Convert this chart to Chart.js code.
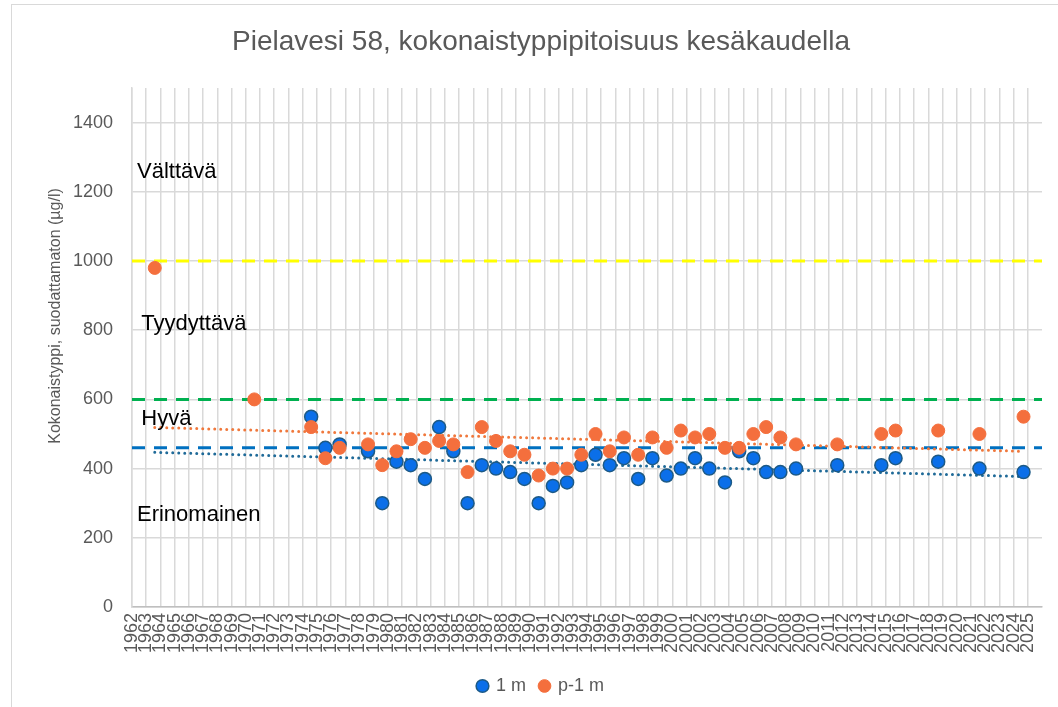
<!DOCTYPE html>
<html>
<head>
<meta charset="utf-8">
<title>Pielavesi 58</title>
<script src="https://cdn.jsdelivr.net/npm/chart.js@4.4.1/dist/chart.umd.min.js"></script>
<style>
  html, body { margin: 0; padding: 0; background: #fff; }
  #wrap { position: relative; width: 1058px; height: 707px; overflow: hidden; }
  #frame { position: absolute; left: 11px; top: 4px; width: 1200px; height: 900px; border: 1px solid #d9d9d9; box-sizing: border-box; }
  #chart { position: absolute; left: 0; top: 0; }
</style>
</head>
<body>
<div id="wrap">
  <div id="frame"></div>
  <canvas id="chart" width="1058" height="707"></canvas>
</div>
<script>
// =====================================
// DATA (sample year as decimal, summer samples)
// =====================================
const years1m = [1974.6, 1975.6, 1976.6, 1978.6, 1979.6, 1980.6, 1981.6, 1982.6, 1983.6, 1984.6,
                 1985.6, 1986.6, 1987.6, 1988.6, 1989.6, 1990.6, 1991.6, 1992.6, 1993.6, 1994.6,
                 1995.6, 1996.6, 1997.6, 1998.6, 1999.6, 2000.6, 2001.6, 2002.6, 2003.7, 2004.7,
                 2005.7, 2006.6, 2007.6, 2008.7, 2011.6, 2014.7, 2015.7, 2018.7, 2021.6, 2024.7];
const values1m = [550, 460, 470, 450, 300, 420, 410, 370, 520, 450,
                  300, 410, 400, 390, 370, 300, 350, 360, 410, 440,
                  410, 430, 370, 430, 380, 400, 430, 400, 360, 450,
                  430, 390, 390, 400, 410, 410, 430, 420, 400, 390];

const yearsP1m = [1963.6, 1970.6, 1974.6, 1975.6, 1976.6, 1978.6, 1979.6, 1980.6, 1981.6, 1982.6,
                  1983.6, 1984.6, 1985.6, 1986.6, 1987.6, 1988.6, 1989.6, 1990.6, 1991.6, 1992.6,
                  1993.6, 1994.6, 1995.6, 1996.6, 1997.6, 1998.6, 1999.6, 2000.6, 2001.6, 2002.6,
                  2003.7, 2004.7, 2005.7, 2006.6, 2007.6, 2008.7, 2011.6, 2014.7, 2015.7, 2018.7,
                  2021.6, 2024.7];
const valuesP1m = [980, 600, 520, 430, 460, 470, 410, 450, 485, 460,
                   480, 470, 390, 520, 480, 450, 440, 380, 400, 400,
                   440, 500, 450, 490, 440, 490, 460, 510, 490, 500,
                   460, 460, 500, 520, 490, 470, 470, 500, 510, 510,
                   500, 550];

// linear trendlines (end points)
const trendYears = [1963.6, 2024.6];
const trend1m = [447, 377];
const trendP1m = [519, 450];

// class limits (dashed lines)
const limitValues = [1000, 600, 460];
const limitColors = ["#ffff00", "#00b050", "#0070c0"];

// class names and where they sit (year, value)
const classNames = ["Välttävä", "Tyydyttävä", "Hyvä", "Erinomainen"];
const classYears = [1962.35, 1962.65, 1962.65, 1962.35];
const classValues = [1240, 800, 525, 249];

const X_MIN = 1962;
const X_MAX = 2026;
const Y_MAX = 1500;

const GRAY = "#595959";
const FONT = "'Liberation Sans', Arial, sans-serif";

// =====================================
// HELPERS
// =====================================
const toPoints = (xs, ys) => xs.map((x, i) => ({ x: x, y: ys[i] }));

// =====================================
// PLUGINS
// =====================================
const yTitlePlugin = {
    id: "yTitle",
    afterDraw(chart) {
        const ctx = chart.ctx;
        ctx.save();
        ctx.translate(56, 316);
        ctx.rotate(-Math.PI / 2);
        ctx.font = "16px " + FONT;
        ctx.fillStyle = GRAY;
        ctx.textAlign = "center";
        ctx.textBaseline = "middle";
        ctx.fillText("Kokonaistyppi, suodattamaton (µg/l)", 0, 0);
        ctx.restore();
    }
};

const classLabelPlugin = {
    id: "classLabels",
    afterDatasetsDraw(chart) {
        const ctx = chart.ctx;
        const xs = chart.scales.x;
        const ys = chart.scales.y;
        ctx.save();
        ctx.font = "22px " + FONT;
        ctx.fillStyle = "#000";
        ctx.textAlign = "left";
        ctx.textBaseline = "alphabetic";
        classNames.forEach((name, i) => {
            ctx.fillText(name, xs.getPixelForValue(classYears[i]), ys.getPixelForValue(classValues[i]));
        });
        ctx.restore();
    }
};

// =====================================
// DATASETS
// =====================================
const datasets = [
    {
        label: "1 m",
        data: toPoints(years1m, values1m),
        backgroundColor: "#0b6fe9",
        borderColor: "#1d5a86",
        borderWidth: 1.5,
        pointRadius: 6.5,
        pointStyle: "circle",
        order: 1
    },
    {
        label: "p-1 m",
        data: toPoints(yearsP1m, valuesP1m),
        backgroundColor: "#f46f3d",
        borderColor: "#f46f3d",
        borderWidth: 1,
        pointRadius: 6.5,
        pointStyle: "circle",
        order: 0
    },
    {
        label: "trend 1 m",
        type: "line",
        data: toPoints(trendYears, trend1m),
        borderColor: "#1f6a98",
        borderWidth: 3,
        borderDash: [0, 6],
        borderCapStyle: "round",
        pointRadius: 0,
        showLine: true,
        fill: false,
        order: 2
    },
    {
        label: "trend p-1 m",
        type: "line",
        data: toPoints(trendYears, trendP1m),
        borderColor: "#f0783c",
        borderWidth: 3,
        borderDash: [0, 6],
        borderCapStyle: "round",
        pointRadius: 0,
        showLine: true,
        fill: false,
        order: 2
    }
];

limitValues.forEach((v, i) => {
    datasets.push({
        label: "limit " + v,
        type: "line",
        data: [{ x: X_MIN, y: v }, { x: X_MAX, y: v }],
        borderColor: limitColors[i],
        borderWidth: 3,
        borderDash: [13, 9],
        pointRadius: 0,
        showLine: true,
        fill: false,
        order: 3
    });
});

// =====================================
// CHART
// =====================================
const ctx = document.getElementById("chart").getContext("2d");

const chart = new Chart(ctx, {
    type: "scatter",
    data: { datasets: datasets },
    options: {
        responsive: false,
        animation: false,
        devicePixelRatio: 1,
        layout: {
            padding: { left: 40, right: 16, top: 0, bottom: 2 }
        },
        plugins: {
            tooltip: { enabled: false },
            title: {
                display: true,
                text: "Pielavesi 58, kokonaistyppipitoisuus kesäkaudella",
                color: GRAY,
                font: { family: FONT, size: 28, weight: "normal", lineHeight: 1.2 },
                padding: { top: 25, bottom: 29.4 }
            },
            legend: {
                display: true,
                position: "bottom",
                labels: {
                    usePointStyle: true,
                    boxWidth: 9,
                    boxHeight: 9,
                    padding: 14,
                    color: GRAY,
                    font: { family: FONT, size: 18 },
                    filter: item => item.datasetIndex < 2,
                    sort: (a, b) => a.datasetIndex - b.datasetIndex
                }
            }
        },
        scales: {
            x: {
                type: "linear",
                min: X_MIN,
                max: X_MAX,
                afterBuildTicks: scale => {
                    scale.ticks = scale.ticks.filter(t => t.value < X_MAX);
                },
                afterFit: scale => { scale.height = 56; },
                ticks: {
                    stepSize: 1,
                    autoSkip: false,
                    maxRotation: 90,
                    minRotation: 90,
                    padding: 6,
                    color: GRAY,
                    font: { family: FONT, size: 18 },
                    callback: v => String(v)
                },
                grid: { color: "#d9d9d9", lineWidth: 1.5, drawTicks: false },
                border: { color: "#bfbfbf", width: 1.5 }
            },
            y: {
                min: 0,
                max: Y_MAX,
                afterBuildTicks: scale => {
                    scale.ticks = scale.ticks.filter(t => t.value < Y_MAX);
                },
                afterFit: scale => { scale.width = 92; },
                ticks: {
                    stepSize: 200,
                    padding: 19,
                    color: GRAY,
                    font: { family: FONT, size: 18 },
                    callback: v => String(v)
                },
                grid: { color: "#d9d9d9", lineWidth: 1.5, drawTicks: false },
                border: { color: "#d9d9d9", width: 1.5 }
            }
        }
    },
    plugins: [yTitlePlugin, classLabelPlugin]
});
</script>
</body>
</html>
